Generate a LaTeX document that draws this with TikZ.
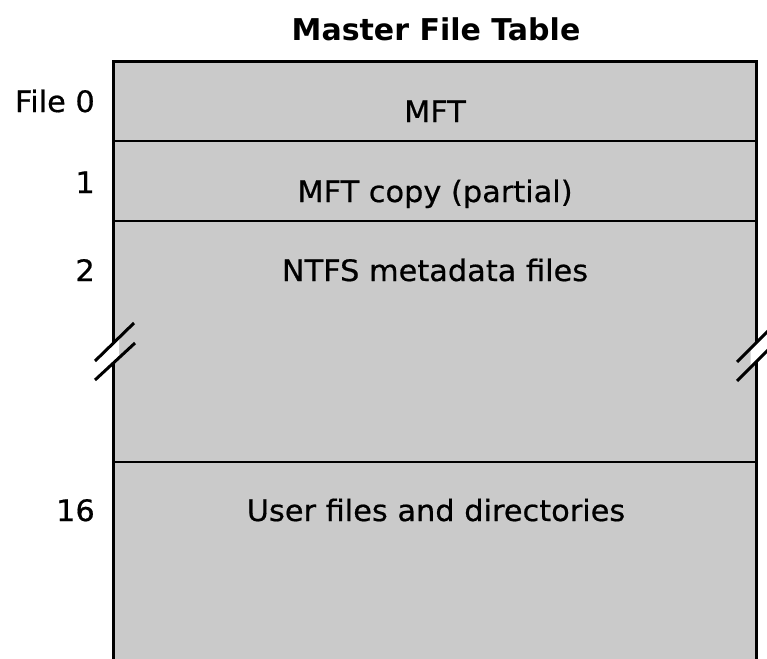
\documentclass[tikz,border=0pt]{standalone}
\usepackage{fontspec}
\setmainfont{DejaVu Sans}[FakeStretch=1.03, FakeBold=0.6]
\newfontfamily\titlefont{DejaVu Sans}[FakeStretch=1.0]
\definecolor{cellgray}{HTML}{CACACA}
\tikzset{
  label/.style={inner sep=0pt, anchor=base, font=\fontsize{29.5}{33}\selectfont},
  num/.style={inner sep=0pt, anchor=base east, font=\fontsize{29.5}{33}\selectfont},
  heading/.style={inner sep=0pt, anchor=base, font=\titlefont\bfseries\fontsize{30}{34}\selectfont},
  border/.style={line width=3pt},
  divider/.style={line width=2pt},
  breakmark/.style={line width=3pt, line cap=butt},
}
\begin{document}
\begin{tikzpicture}[x=1pt, y=-1pt]
  \useasboundingbox (0,0) rectangle (767,658);
  \clip (0,0) rectangle (767,658);

  % table body
  \fill[cellgray] (113,62) rectangle (756,670);
  \draw[border] (113,670) -- (113,62) -- (756,62) -- (756,670);

  % row dividers
  \draw[divider] (113,141) -- (756,141);
  \draw[divider] (113,221) -- (756,221);
  \draw[divider] (113,462) -- (756,462);

  % break marks on the left side
  \fill[white] (108,348.3) -- (119,337.6) -- (119,357.8) -- (108,368.0) -- cycle;
  \draw[breakmark] (95,361) -- (134,323);
  \draw[breakmark] (95,380) -- (135,343);

  % break marks on the right side
  \fill[white] (750.5,349.4) -- (761.5,338.3) -- (761.5,357.2) -- (750.5,368.3) -- cycle;
  \draw[breakmark] (737,362) -- (772,327);
  \draw[breakmark] (737,381) -- (772,346);

  % title
  \node[heading] (title) at (436,41) {Master File Table};

  % record contents
  \node[label] (mft)  at (435,122) {MFT};
  \node[label] (copy) at (435,202) {MFT copy (partial)};
  \node[label] (meta) at (435,281) {NTFS metadata files};
  \node[label] (user) at (436,521) {User files and directories};

  % record numbers
  \node[num] (n0)  at (95,112) {File 0};
  \node[num] (n1)  at (95,193) {1};
  \node[num] (n2)  at (95,281) {2};
  \node[num] (n16) at (95,521) {16};
\end{tikzpicture}
\end{document}
